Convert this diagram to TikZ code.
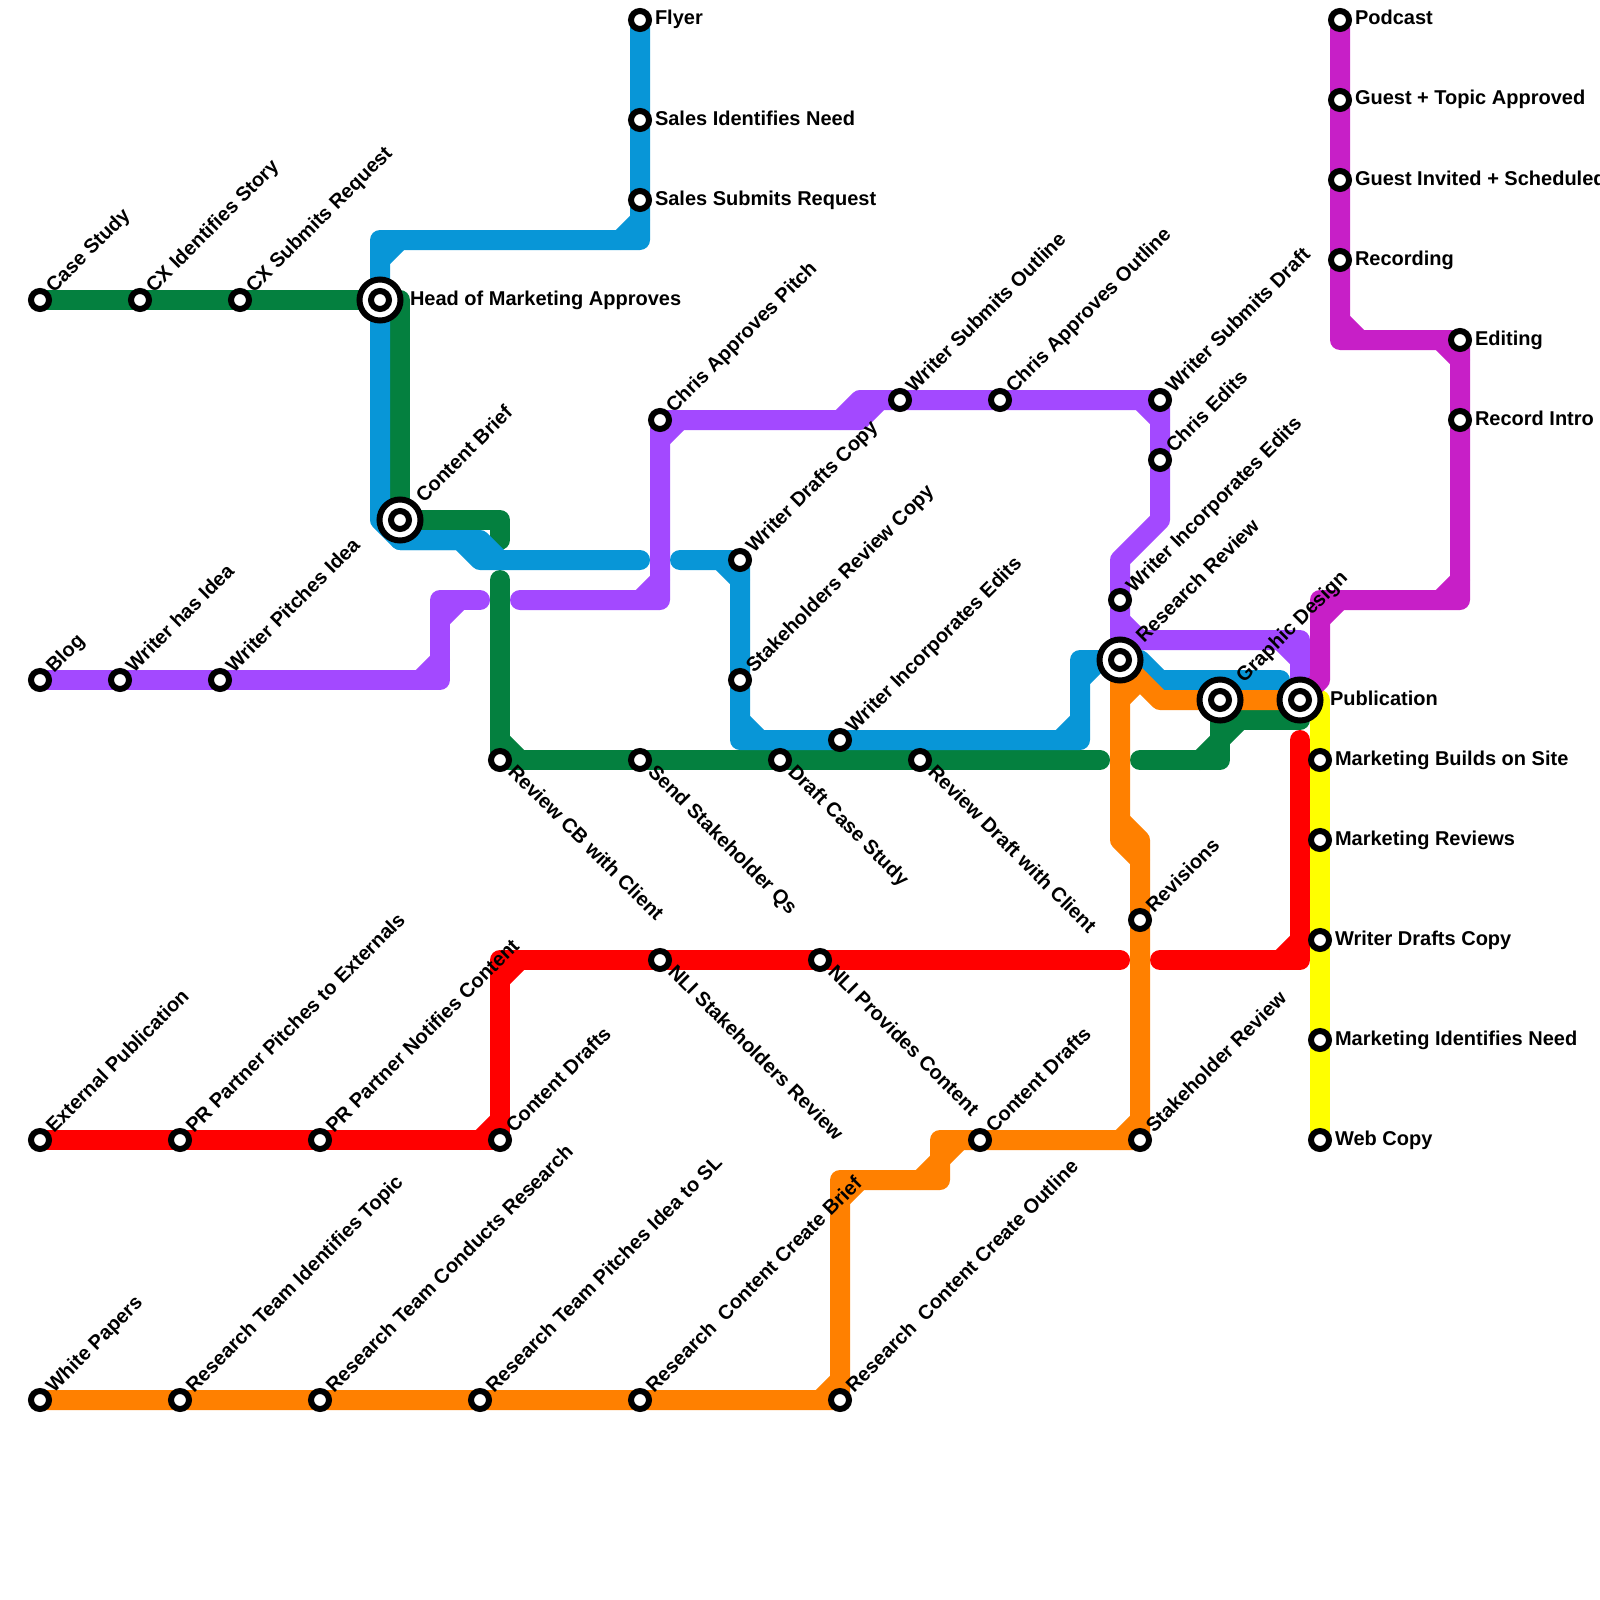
\documentclass[tikz,border=0pt]{standalone}
\usepackage{fontspec}
\setmainfont{Liberation Sans}
\pgfdeclarelayer{lines}
\pgfsetlayers{lines,main}
\definecolor{cgreen}{HTML}{04803F}
\definecolor{cblue}{HTML}{0896D7}
\definecolor{cpurple}{HTML}{A349FF}
\definecolor{corange}{HTML}{FF8000}
\definecolor{cred}{HTML}{FF0000}
\definecolor{cyellow}{HTML}{FFFF00}
\definecolor{cmag}{HTML}{C71FC7}
\tikzset{
  metro/.style={line width=20pt,line cap=round,line join=round},
  stn/.style={circle,draw=black,fill=white,line width=6pt,minimum size=18pt,inner sep=0pt,outer sep=0pt},
  hubring/.style={circle,draw=black,fill=white,line width=6pt,minimum size=41pt,inner sep=0pt,outer sep=0pt},
  lbl/.style={inner sep=0pt,outer sep=0pt,text=black,font=\bfseries\fontsize{20}{24}\selectfont,anchor=base west},
  lblU/.style={lbl,xshift=14pt,yshift=6.5pt,rotate=45},
  lblD/.style={lbl,xshift=7pt,yshift=-13pt,rotate=-45},
  lblR/.style={lbl,xshift=15pt,yshift=-5pt},
  hubU/.style={lbl,xshift=24pt,yshift=16.5pt,rotate=45},
  hubR/.style={lbl,xshift=30pt,yshift=-5pt},
}
\newcommand{\stU}[3]{\node[stn] (#1) at (#2) {}; \node[lblU] (#1t) at (#2) {#3};}
\newcommand{\stD}[3]{\node[stn] (#1) at (#2) {}; \node[lblD] (#1t) at (#2) {#3};}
\newcommand{\stR}[3]{\node[stn] (#1) at (#2) {}; \node[lblR] (#1t) at (#2) {#3};}
\newcommand{\hubU}[3]{\node[hubring] (#1) at (#2) {}; \node[stn] (#1i) at (#2) {}; \node[hubU] (#1t) at (#2) {#3};}
\newcommand{\hubR}[3]{\node[hubring] (#1) at (#2) {}; \node[stn] (#1i) at (#2) {}; \node[hubR] (#1t) at (#2) {#3};}
\begin{document}
\begin{tikzpicture}[x=1pt,y=-1pt]
\useasboundingbox (0,0) rectangle (1600,1600);
% green stations
\stU{case}{40,300}{Case Study}
\stU{cxa}{140,300}{CX Identifies Story}
\stU{cxb}{240,300}{CX Submits Request}
\hubR{head}{380,300}{Head of Marketing Approves}
\hubU{brief}{400,520}{Content Brief}
\stD{revcb}{500,760}{Review CB with Client}
\stD{sendq}{640,760}{Send Stakeholder Qs}
\stD{draftcs}{780,760}{Draft Case Study}
\stD{revdr}{920,760}{Review Draft with Client}
% purple stations
\stU{blog}{40,680}{Blog}
\stU{wha}{120,680}{Writer has Idea}
\stU{wpi}{220,680}{Writer Pitches Idea}
\stU{cap}{660,420}{Chris Approves Pitch}
\stU{wso}{900,400}{Writer Submits Outline}
\stU{cao}{1000,400}{Chris Approves Outline}
\stU{wsd}{1160,400}{Writer Submits Draft}
\stU{ced}{1160,460}{Chris Edits}
\stU{wie}{1120,600}{Writer Incorporates Edits}
% blue stations
\stR{fly}{640,20}{Flyer}
\stR{sin}{640,120}{Sales Identifies Need}
\stR{ssr}{640,200}{Sales Submits Request}
\stU{wdc}{740,560}{Writer Drafts Copy}
\stU{src}{740,680}{Stakeholders Review Copy}
\stU{wib}{840,740}{Writer Incorporates Edits}
% hubs
\hubU{rev}{1120,660}{Research Review}
\hubU{gfx}{1220,700}{Graphic Design}
\hubR{pub}{1300,700}{Publication}
% red stations
\stU{ext}{40,1140}{External Publication}
\stU{pre}{180,1140}{PR Partner Pitches to Externals}
\stU{prn}{320,1140}{PR Partner Notifies Content}
\stU{cdr}{500,1140}{Content Drafts}
\stD{nsr}{660,960}{NLI Stakeholders Review}
\stD{npc}{820,960}{NLI Provides Content}
% orange stations
\stU{revi}{1140,920}{Revisions}
\stU{shr}{1140,1140}{Stakeholder Review}
\stU{cdo}{980,1140}{Content Drafts}
\stU{wpp}{40,1400}{White Papers}
\stU{rti}{180,1400}{Research Team Identifies Topic}
\stU{rtc}{320,1400}{Research Team Conducts Research}
\stU{rtp}{480,1400}{Research Team Pitches Idea to SL}
\stU{rcb}{640,1400}{Research\ \ Content Create Brief}
\stU{rco}{840,1400}{Research\ \ Content Create Outline}
% yellow stations
\stR{mbs}{1320,760}{Marketing Builds on Site}
\stR{mre}{1320,840}{Marketing Reviews}
\stR{wdy}{1320,940}{Writer Drafts Copy}
\stR{min}{1320,1040}{Marketing Identifies Need}
\stR{web}{1320,1140}{Web Copy}
% magenta stations
\stR{pod}{1340,20}{Podcast}
\stR{gta}{1340,100}{Guest + Topic Approved}
\stR{gis}{1340,180}{Guest Invited + Scheduled}
\stR{rec}{1340,260}{Recording}
\stR{edi}{1460,340}{Editing}
\stR{rin}{1460,420}{Record Intro}
% free line ends
\coordinate (gfree) at (500,580);
\coordinate (gendA) at (1100,760);
\coordinate (gstart) at (1140,760);
\coordinate (gstub) at (500,540);
\coordinate (pendA) at (480,600);
\coordinate (pstart) at (520,600);
\coordinate (bendA) at (640,560);
\coordinate (bstart) at (680,560);
\coordinate (bendB) at (1280,680);
\coordinate (rendA) at (1120,960);
\coordinate (rstart) at (1160,960);
\coordinate (rendB) at (1300,740);
\begin{pgfonlayer}{lines}
% green
\draw[metro,cgreen] (case.center)--(cxa.center)--(cxb.center)--(head.center)--(400,300)--(brief.center)--(500,520)--(gstub);
\draw[metro,cgreen] (gfree)--(revcb.center)--(gendA);
\draw[metro,cgreen] (500,740)--(520,760);
\draw[metro,cgreen] (gstart)--(1220,760)--(gfx.center);
\draw[metro,cgreen] (1200,760)--(1220,740)--(1240,720);
\draw[metro,cgreen] (1220,720)--(1300,720)--(pub.center);
% purple
\draw[metro,cpurple] (blog.center)--(wha.center)--(wpi.center)--(440,680)--(440,600)--(pendA);
\draw[metro,cpurple] (420,680)--(440,660);
\draw[metro,cpurple] (440,620)--(460,600);
\draw[metro,cpurple] (pstart)--(660,600)--(cap.center)--(860,420)--(880,400)--(wso.center)--(cao.center)--(wsd.center)--(ced.center)--(1160,520)--(1120,560)--(wie.center)--(1120,640)--(1300,640)--(pub.center);
\draw[metro,cpurple] (640,600)--(660,580);
\draw[metro,cpurple] (660,440)--(680,420);
\draw[metro,cpurple] (840,420)--(860,400)--(880,400);
\draw[metro,cpurple] (1140,400)--(1160,420);
\draw[metro,cpurple] (1120,620)--(1140,640);
\draw[metro,cpurple] (1280,640)--(1300,660);
% blue
\draw[metro,cblue] (fly.center)--(sin.center)--(ssr.center)--(640,240)--(380,240)--(head.center)--(380,520)--(400,540)--(460,540)--(480,560)--(bendA);
\draw[metro,cblue] (640,220)--(620,240);
\draw[metro,cblue] (400,240)--(380,260);
\draw[metro,cblue] (400,540)--(480,540)--(500,560);
\draw[metro,cblue] (bstart)--(wdc.center)--(src.center)--(740,740)--(wib.center)--(1080,740)--(1080,660)--(rev.center)--(1140,660)--(1160,680)--(bendB);
\draw[metro,cblue] (720,560)--(740,580);
\draw[metro,cblue] (740,720)--(760,740);
\draw[metro,cblue] (1060,740)--(1080,720);
\draw[metro,cblue] (1080,680)--(1100,660);
% red
\draw[metro,cred] (ext.center)--(pre.center)--(prn.center)--(cdr.center)--(500,960)--(nsr.center)--(npc.center)--(rendA);
\draw[metro,cred] (480,1140)--(500,1120);
\draw[metro,cred] (500,980)--(520,960);
\draw[metro,cred] (rstart)--(1300,960)--(rendB);
\draw[metro,cred] (1280,960)--(1300,940);
% yellow
\draw[metro,cyellow] (pub.center)--(1320,700)--(mbs.center)--(mre.center)--(wdy.center)--(min.center)--(web.center);
% orange
\draw[metro,corange] (wpp.center)--(rti.center)--(rtc.center)--(rtp.center)--(rcb.center)--(rco.center)--(840,1180)--(940,1180)--(940,1140)--(cdo.center)--(shr.center)--(revi.center)--(1140,860)--(1120,840)--(rev.center)--(1160,700)--(gfx.center)--(pub.center);
\draw[metro,corange] (820,1400)--(840,1380);
\draw[metro,corange] (840,1200)--(860,1180);
\draw[metro,corange] (920,1180)--(960,1140);
\draw[metro,corange] (1120,1140)--(1140,1120);
\draw[metro,corange] (1120,820)--(1140,840)--(1140,860);
\draw[metro,corange] (1120,700)--(1140,680);
% magenta
\draw[metro,cmag] (pod.center)--(gta.center)--(gis.center)--(rec.center)--(1340,340)--(edi.center)--(rin.center)--(1460,600)--(1320,600)--(1320,680)--(pub.center);
\draw[metro,cmag] (1340,320)--(1360,340);
\draw[metro,cmag] (1440,340)--(1460,360);
\draw[metro,cmag] (1440,600)--(1460,580);
\draw[metro,cmag] (1320,620)--(1340,600);
\end{pgfonlayer}
\end{tikzpicture}
\end{document}
